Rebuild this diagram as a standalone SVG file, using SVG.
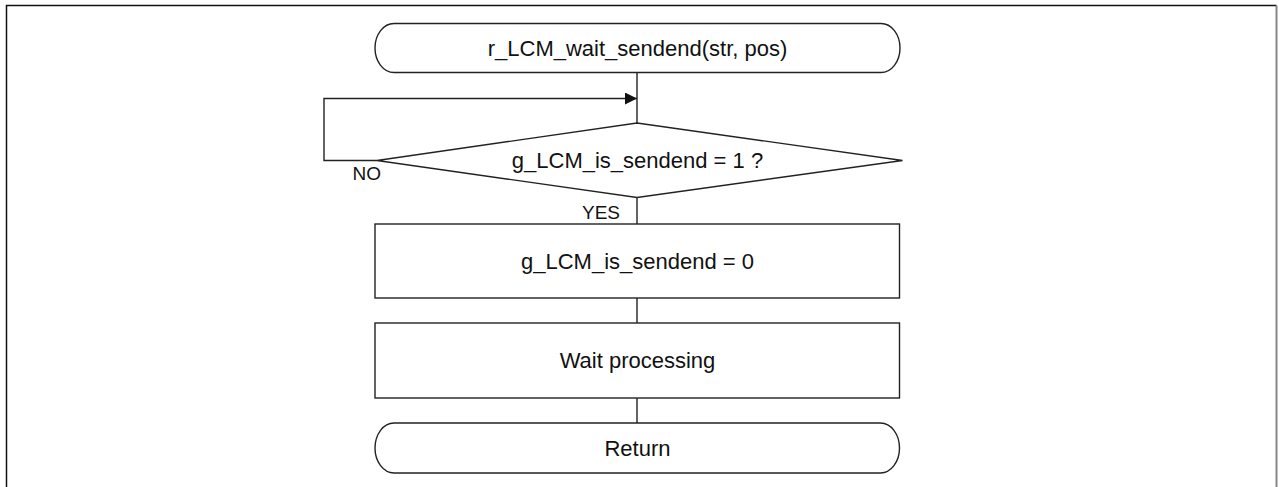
<svg xmlns="http://www.w3.org/2000/svg" width="1279" height="487" viewBox="0 0 1279 487">
  <defs>
    <marker id="arrow" viewBox="0 0 12 12" refX="12" refY="6" markerWidth="12" markerHeight="12" markerUnits="userSpaceOnUse" orient="auto">
      <path d="M0,0 L12,6 L0,12 Z" fill="#111"/>
    </marker>
  </defs>
  <style>
    .shape { fill: #ffffff; stroke: #222; stroke-width: 1.4; }
    .conn { fill: none; stroke: #222; stroke-width: 1.4; }
    .txt { font-family: "Liberation Sans", Arial, sans-serif; font-size: 22px; fill: #111; text-anchor: middle; }
    .lbl { font-family: "Liberation Sans", Arial, sans-serif; font-size: 19px; fill: #111; }
  </style>

  <rect x="0" y="0" width="1279" height="487" fill="#ffffff"/>

  <!-- outer frame -->
  <path d="M6.5,487 L6.5,5.5 L1276.5,5.5" fill="none" stroke="#111" stroke-width="1.5"/>
  <line x1="1276.5" y1="5.5" x2="1276.5" y2="487" stroke="#888" stroke-width="2"/>

  <!-- connectors -->
  <g id="connectors">
    <line class="conn" x1="637" y1="72.5" x2="637" y2="123"/>
    <path class="conn" d="M377,160.5 L324,160.5 L324,98.5 L637,98.5" marker-end="url(#arrow)"/>
    <line class="conn" x1="637" y1="197.5" x2="637" y2="224"/>
    <line class="conn" x1="637" y1="298" x2="637" y2="323"/>
    <line class="conn" x1="637" y1="398" x2="637" y2="423"/>
    <text class="lbl" x="352.5" y="180">NO</text>
    <text class="lbl" x="620" y="218.5" text-anchor="end">YES</text>
  </g>

  <g id="start">
    <rect class="shape" x="375" y="23.5" width="525" height="49" rx="19" ry="24.5"/>
    <text class="txt" x="637.5" y="55.5">r_LCM_wait_sendend(str, pos)</text>
  </g>

  <g id="check-sendend">
    <polygon class="shape" points="637,123 902.5,160.5 637,197.5 377,160.5"/>
    <text class="txt" x="637.5" y="167.5">g_LCM_is_sendend = 1 ?</text>
  </g>

  <g id="clear-flag">
    <rect class="shape" x="375" y="224" width="524.5" height="74"/>
    <text class="txt" x="637.5" y="268.5">g_LCM_is_sendend = 0</text>
  </g>

  <g id="wait">
    <rect class="shape" x="375" y="323" width="524.5" height="75"/>
    <text class="txt" x="637.5" y="368">Wait processing</text>
  </g>

  <g id="return">
    <rect class="shape" x="375" y="423" width="524.5" height="50" rx="19" ry="25"/>
    <text class="txt" x="637.5" y="455.5">Return</text>
  </g>
</svg>
